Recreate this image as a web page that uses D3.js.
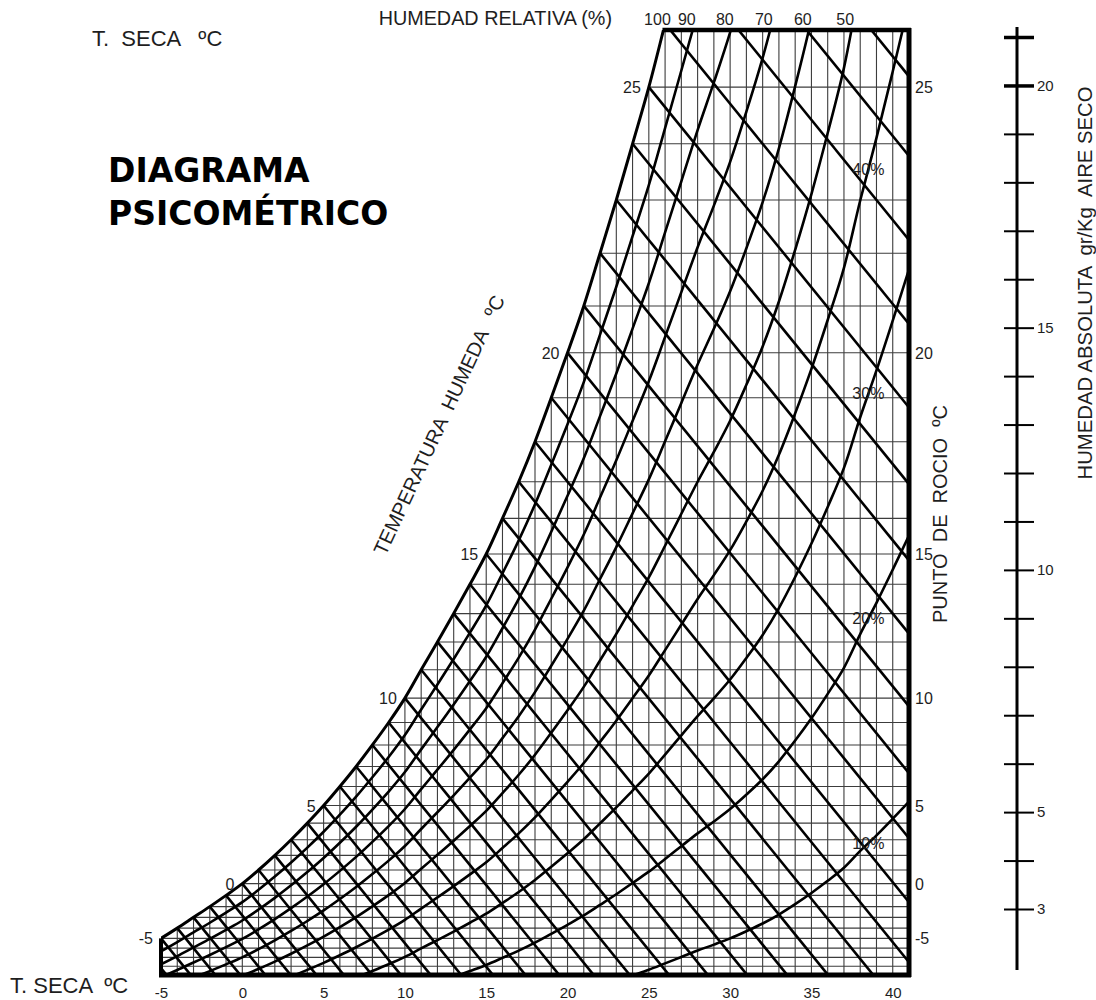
<!DOCTYPE html>
<html>
<head>
<meta charset="utf-8">
<script src="https://cdn.jsdelivr.net/npm/d3@7"></script>
<style>
  body { margin: 0; background: #fff; }
  text { font-family: "Liberation Sans", Arial, sans-serif; fill: #1e1e1e; }
  .pre { white-space: pre; }
</style>
</head>
<body>
<svg id="chart" width="1096" height="1000"></svg>
<script>
// Saturation humidity (g/kg dry air) at each dry-bulb temperature (°C)
const satTemps = [-8,-7,-6,-5,-4,-3,-2,-1,0,1,2,3,4,5,6,7,8,9,10,11,12,13,14,15,16,17,18,19,20,
                  21,22,23,24,25,26,27,28,29,30,31,32,33,34,35,36,37,38,39,40,41];
const saturationHumidity = [2.08,2.26,2.45,2.65,2.86,3.08,3.30,3.53,3.77,4.05,4.35,4.67,5.01,5.37,
                  5.76,6.17,6.61,7.07,7.57,8.15,8.72,9.30,9.90,10.52,11.25,12.0,12.82,13.72,14.64,
                  15.6,16.68,17.77,18.92,20.08,21.38,22.69,24.00,25.22,26.50,27.97,29.54,31.38,
                  33.50,35.78,38.28,40.95,44.4,47.6,51.0,54.5];

// Relative humidity curves (fraction of saturation)
const rhLevels = [0.9, 0.8, 0.7, 0.6, 0.5, 0.4, 0.3, 0.2, 0.1];
const rhTopLabels = [100, 90, 80, 70, 60, 50];
const rhInnerLabels = [40, 30, 20, 10];

// Dew-point (horizontal) and wet-bulb (diagonal) lines, °C
const dewPointLines = d3.range(-8, 26);
const wetBulbLines = d3.range(-7, 30);
const wetBulbSlope = 0.41;            // g/kg lost per °C along a wet-bulb line

// Axis ticks
const dryBulbGrid = d3.range(-5, 41);
const dryBulbTicks = [-5, 0, 5, 10, 15, 20, 25, 30, 35, 40];
const saturationLabels = [-5, 0, 5, 10, 15, 20, 25];
const rulerTicks = d3.range(3, 22);
const rulerLabels = [3, 5, 10, 15, 20];

const svg = d3.select('#chart');

const x = d3.scaleLinear().domain([-5, 41]).range([161, 909]);
const y = d3.scaleLinear().domain([1.9, 21.25]).range([975, 30]);
const [wBottom, wTop] = y.domain();
const [tMin, tMax] = x.domain();
const wsAt = d3.scaleLinear().domain(satTemps).range(saturationHumidity);
const satPts = satTemps.map((t, i) => [t, saturationHumidity[i]]);

const curve = d3.line().x(d => x(d[0])).y(d => y(d[1])).curve(d3.curveCatmullRom.alpha(0.5));

// Clip regions: the plot rectangle and the zone below the saturation curve
const defs = svg.append('defs');
defs.append('clipPath').attr('id', 'plotRect').append('rect')
  .attr('x', x(tMin)).attr('y', y(wTop))
  .attr('width', x(tMax) - x(tMin)).attr('height', y(wBottom) - y(wTop));
const lastPt = satPts[satPts.length - 1];
defs.append('clipPath').attr('id', 'underSat').append('path')
  .attr('d', curve(satPts) +
    `L${x(tMax) + 30},${y(lastPt[1])}L${x(tMax) + 30},${y(wBottom) + 30}L${x(satTemps[0])},${y(wBottom) + 30}Z`);

const plot = svg.append('g').attr('clip-path', 'url(#plotRect)')
  .append('g').attr('clip-path', 'url(#underSat)');

// Thin grid: dry-bulb verticals and dew-point horizontals
plot.append('g').selectAll('line').data(dryBulbGrid).join('line')
  .attr('x1', d => x(d)).attr('x2', d => x(d))
  .attr('y1', y(wBottom)).attr('y2', d => y(Math.min(wsAt(d), wTop)) - 2)
  .attr('stroke', '#3c3c3c').attr('stroke-width', 1.1);

plot.append('g').selectAll('line').data(dewPointLines).join('line')
  .attr('x1', d => x(Math.max(d, tMin)) - 2).attr('x2', x(tMax))
  .attr('y1', d => y(wsAt(d))).attr('y2', d => y(wsAt(d)))
  .attr('stroke', '#3c3c3c').attr('stroke-width', 1.1);

// Wet-bulb lines
plot.append('g').selectAll('line').data(wetBulbLines).join('line')
  .attr('x1', d => x(d)).attr('y1', d => y(wsAt(d)))
  .attr('x2', x(tMax + 2)).attr('y2', d => y(wsAt(d) - wetBulbSlope * (tMax + 2 - d)))
  .attr('stroke', '#000').attr('stroke-width', 2.6);

// Relative humidity curves
plot.append('g').selectAll('path').data(rhLevels).join('path')
  .attr('d', r => curve(satPts.map(([t, w]) => [t, r * w])))
  .attr('fill', 'none').attr('stroke', '#000').attr('stroke-width', 2.6);

// Saturation curve and frame
const frame = svg.append('g').attr('clip-path', 'url(#plotRect)');
frame.append('path').attr('d', curve(satPts))
  .attr('fill', 'none').attr('stroke', '#000').attr('stroke-width', 3);

const tAtTop = d3.scaleLinear().domain(saturationHumidity).range(satTemps)(wTop);
svg.append('line').attr('x1', x(tAtTop) - 1).attr('x2', x(tMax) + 2)
  .attr('y1', y(wTop)).attr('y2', y(wTop)).attr('stroke', '#000').attr('stroke-width', 4.5);
svg.append('line').attr('x1', x(tMax)).attr('x2', x(tMax))
  .attr('y1', y(wTop) - 2).attr('y2', y(wBottom) + 2).attr('stroke', '#000').attr('stroke-width', 5);
svg.append('line').attr('x1', x(tMin) - 2).attr('x2', x(tMax) + 2)
  .attr('y1', y(wBottom)).attr('y2', y(wBottom)).attr('stroke', '#000').attr('stroke-width', 5);
svg.append('line').attr('x1', x(tMin)).attr('x2', x(tMin))
  .attr('y1', y(wsAt(tMin))).attr('y2', y(wBottom)).attr('stroke', '#000').attr('stroke-width', 4);

// Dry-bulb axis
const xAxis = svg.append('g').attr('transform', `translate(0,${y(wBottom)})`)
  .call(d3.axisBottom(x).tickValues(dryBulbTicks).tickSize(0).tickPadding(12).tickFormat(d => String(d)))
  .attr('font-size', 15).attr('font-family', null);
xAxis.select('.domain').remove();

// Wet-bulb labels along the saturation curve, dew-point labels at the right edge
svg.append('g').selectAll('text').data(saturationLabels).join('text')
  .attr('x', d => x(d) - 8).attr('y', d => y(wsAt(d)) + 6)
  .attr('text-anchor', 'end').attr('font-size', 16).text(d => String(d));
svg.append('g').selectAll('text').data(saturationLabels).join('text')
  .attr('x', x(tMax) + 6).attr('y', d => y(wsAt(d)) + 6)
  .attr('font-size', 16).text(d => String(d));

// Relative humidity labels along the top edge
svg.append('g').selectAll('text').data(rhTopLabels).join('text')
  .attr('x', p => {
    const r = p / 100;
    return x(d3.scaleLinear().domain(saturationHumidity.map(w => r * w)).range(satTemps)(wTop)) - 6;
  })
  .attr('y', 25).attr('text-anchor', 'middle').attr('font-size', 16).text(d => String(d));

// Relative humidity labels inside the chart
svg.append('g').selectAll('text').data(rhInnerLabels).join('text')
  .attr('x', x(38.5)).attr('y', p => y(p / 100 * wsAt(38.5)))
  .attr('dy', '0.35em').attr('text-anchor', 'middle').attr('font-size', 16).attr('fill', '#22223a')
  .text(p => p + '%');

// Absolute humidity ruler
const yRuler = d3.scaleLinear().domain([3, 21]).range([909, 37]);
svg.append('line').attr('x1', 1017).attr('x2', 1017).attr('y1', 27).attr('y2', 970)
  .attr('stroke', '#000').attr('stroke-width', 3);
const ruler = svg.append('g').attr('transform', 'translate(1017,0)')
  .call(d3.axisRight(yRuler).tickValues(rulerTicks).tickSize(17).tickPadding(3)
    .tickFormat(d => rulerLabels.includes(d) ? String(d) : ''))
  .attr('font-size', 15).attr('font-family', null);
ruler.select('.domain').remove();
ruler.selectAll('.tick line').attr('x1', -13).attr('stroke', '#000')
  .attr('stroke-width', d => d >= 20 ? 3.5 : 2);

// Titles and axis names
svg.append('text').attr('x', 108).attr('y', 182).attr('font-size', 33)
  .attr('font-weight', 'bold').style('font-family', '"DejaVu Sans", Verdana, sans-serif')
  .style('fill', '#000').text('DIAGRAMA');
svg.append('text').attr('x', 108).attr('y', 225).attr('font-size', 33)
  .attr('font-weight', 'bold').style('font-family', '"DejaVu Sans", Verdana, sans-serif')
  .style('fill', '#000').text('PSICOMÉTRICO');

svg.append('text').attr('class', 'pre').attr('x', 92).attr('y', 46).attr('font-size', 22).text('T.  SECA   ºC');
svg.append('text').attr('class', 'pre').attr('x', 10).attr('y', 993).attr('font-size', 22).text('T. SECA  ºC');
svg.append('text').attr('x', 612).attr('y', 25).attr('text-anchor', 'end').attr('font-size', 19.8)
  .text('HUMEDAD RELATIVA (%)');
svg.append('text').attr('class', 'pre').attr('transform', 'translate(439,425) rotate(-65)')
  .attr('text-anchor', 'middle').attr('dy', '0.35em').attr('font-size', 20).text('TEMPERATURA  HUMEDA   ºC');
svg.append('text').attr('class', 'pre').attr('transform', 'translate(947,514) rotate(-90)')
  .attr('text-anchor', 'middle').attr('font-size', 20).text('PUNTO  DE  ROCIO  ºC');
svg.append('text').attr('class', 'pre').attr('transform', 'translate(1092,283) rotate(-90)')
  .attr('text-anchor', 'middle').attr('font-size', 20.3).text('HUMEDAD ABSOLUTA  gr/Kg  AIRE SECO');
</script>
</body>
</html>
